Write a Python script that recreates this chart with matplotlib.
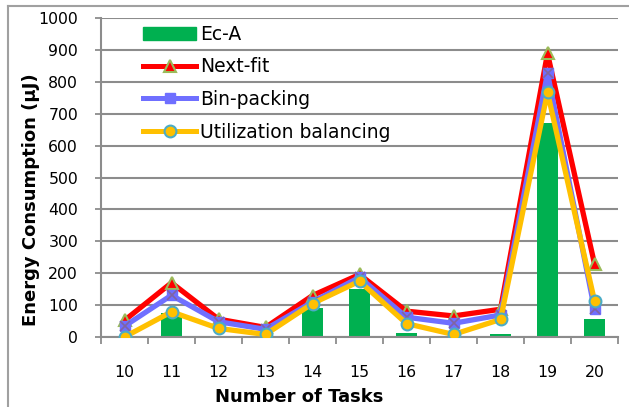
import matplotlib
matplotlib.use("Agg")
import matplotlib.pyplot as plt
from matplotlib.lines import Line2D
import numpy as np

plt.rcParams['font.family'] = ['DejaVu Sans']

categories = ["10", "11", "12", "13", "14", "15", "16", "17", "18", "19", "20"]
ec_a = [0, 75, 0, 4, 90, 150, 12, 0, 8, 670, 56]
next_fit = [52, 170, 56, 30, 130, 196, 81, 66, 87, 889, 229]
bin_packing = [34, 131, 48, 24, 110, 187, 62, 43, 69, 827, 87]
util_bal = [0, 79, 27, 8, 105, 175, 42, 8, 55, 767, 113]
y_ticks = [0, 100, 200, 300, 400, 500, 600, 700, 800, 900, 1000]

W, H = 629, 407
fig = plt.figure(figsize=(W / 100, H / 100), dpi=100)
ax = fig.add_axes([101 / W, 1 - 337 / H, (618 - 101) / W, (337 - 18) / H])

x = np.arange(len(categories))
grey = "#8c8c8c"

ax.bar(x, ec_a, width=0.44, color="#00B050", zorder=2, label="Ec-A")
ax.plot(x, next_fit, color="#FF0000", lw=3.8, marker="^", ms=8,
        mfc="#FF0000", mec="#9BBB59", mew=1.5, zorder=3, label="Next-fit")
ax.plot(x, bin_packing, color="#6F6FFF", lw=3.8, marker="s", ms=7,
        mfc="#6F6FFF", mec="#6F6FFF", zorder=4)
ax.plot(x, bin_packing, ls="none", marker="x", ms=7, mec="#8064A2", mew=1.2, zorder=4.1)
ax.plot(x, util_bal, color="#FFC000", lw=3.8, marker="o", ms=8.5,
        mfc="#FFC000", mec="#4BACC6", mew=1.5, zorder=5)

ax.set_xlim(-0.5, len(categories) - 0.5)
ax.set_ylim(0, 1000)
ax.set_yticks(y_ticks)
ax.set_yticklabels([str(v) for v in y_ticks], fontsize=11.3)
ax.yaxis.grid(True, color=grey, lw=1.5, zorder=0)
ax.set_axisbelow(True)

ax.set_xticks(np.arange(-0.5, len(categories), 1.0))
ax.set_xticklabels([])
ax.set_xticks(x, minor=True)
ax.set_xticklabels(categories, minor=True, fontsize=11.3)
ax.tick_params(axis="x", which="major", length=5, width=1.3, color=grey, direction="out")
ax.tick_params(axis="x", which="minor", length=0, pad=20.5)
ax.tick_params(axis="y", length=4.5, width=1.3, color=grey, direction="out", pad=12)

for s in ["top", "right"]:
    ax.spines[s].set_visible(False)
for s in ["left", "bottom"]:
    ax.spines[s].set_color(grey)
    ax.spines[s].set_linewidth(1.5)

fig.text(31 / W, 1 - 200 / H, "Energy Consumption (\u03bcJ)", rotation=90,
         ha="center", va="center", fontsize=13, fontweight="bold")
fig.text(299 / W, 1 - 397 / H, "Number of Tasks", ha="center", va="center",
         fontsize=13, fontweight="bold")

handles = [
    plt.Rectangle((0, 0), 1, 1, color="#00B050"),
    Line2D([], [], color="#FF0000", lw=3.6, marker="^", ms=8, mfc="#FF0000", mec="#9BBB59", mew=1.5),
    Line2D([], [], color="#6F6FFF", lw=3.6, marker="s", ms=7, mfc="#6F6FFF", mec="#6F6FFF"),
    Line2D([], [], color="#FFC000", lw=3.6, marker="o", ms=8.5, mfc="#FFC000", mec="#4BACC6", mew=1.5),
]
labels = ["Ec-A", "Next-fit", "Bin-packing", "Utilization balancing"]
leg = ax.legend(handles, labels, loc="upper left", bbox_to_anchor=(143 / W, 1 - 25 / H),
                bbox_transform=fig.transFigure, frameon=False, fontsize=13.5,
                handlelength=2.83, handleheight=0.75, labelspacing=0.72, handletextpad=0.2,
                borderaxespad=0, borderpad=0)

fig.add_artist(Line2D([8 / W, 8 / W], [0, 1 - 6 / H], color="#a0a0a0", lw=1.5,
                      transform=fig.transFigure))
fig.add_artist(Line2D([8 / W, 1], [1 - 6 / H, 1 - 6 / H], color="#a0a0a0", lw=1.5,
                      transform=fig.transFigure))

fig.savefig("out.png", dpi=100)
